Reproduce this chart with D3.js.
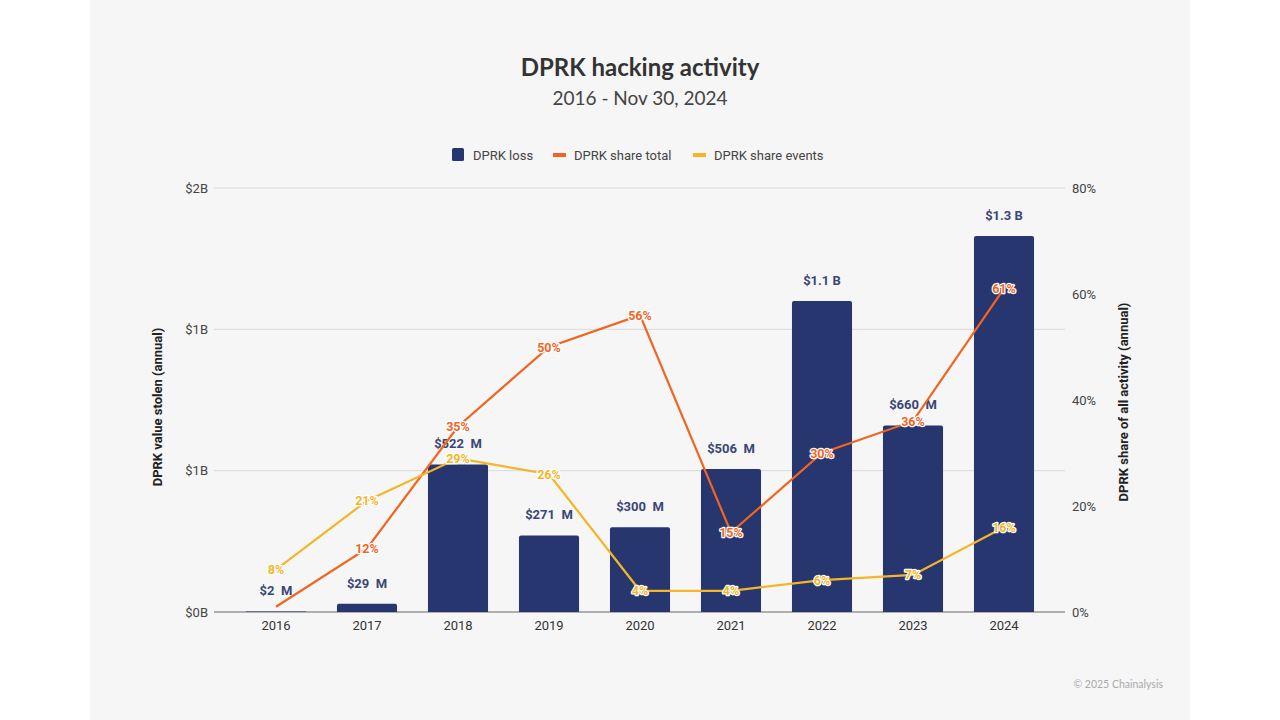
<!DOCTYPE html>
<html><head><meta charset="utf-8">
<script src="https://cdn.jsdelivr.net/npm/d3@7"></script>
<style>
html,body{margin:0;padding:0;background:#fff;}
svg{display:block;font-family:Roboto,"Open Sans",sans-serif;}
</style></head><body>
<svg id="c" width="1280" height="720"></svg>
<script>
const years = ["2016","2017","2018","2019","2020","2021","2022","2023","2024"];
const lossValues = [2e6, 29e6, 522e6, 271e6, 300e6, 506e6, 1.1e9, 660e6, 1.33e9];
const lossLabels = ["$2\u00a0\u00a0M","$29\u00a0\u00a0M","$522\u00a0\u00a0M","$271\u00a0\u00a0M","$300\u00a0\u00a0M","$506\u00a0\u00a0M","$1.1 B","$660\u00a0\u00a0M","$1.3 B"];
const shareTotal = [1, 12, 35, 50, 56, 15, 30, 36, 61];
const shareTotalLabels = [null,"12%","35%","50%","56%","15%","30%","36%","61%"];
const shareEvents = [8, 21, 29, 26, 4, 4, 6, 7, 16];
const shareEventsLabels = ["8%","21%","29%","26%","4%","4%","6%","7%","16%"];
const leftTicks = [0, 0.5e9, 1e9, 1.5e9];
const leftTickLabels = ["$0B","$1B","$1B","$2B"];
const rightTicks = [0, 20, 40, 60, 80];
const legendItems = ["DPRK loss","DPRK share total","DPRK share events"];

const C_BAR = "#27366f", C_TOT = "#f2641f", C_EVT = "#f6b526";
const svg = d3.select("#c");
svg.append("rect").attr("x",0).attr("y",0).attr("width",1280).attr("height",720).attr("fill","#fff");
svg.append("rect").attr("x",90).attr("y",0).attr("width",1100).attr("height",720).attr("fill","#f6f6f6");

const L = 214, R = 1065, T = 188, B = 612;
const x = d3.scaleBand().domain(years).range([230.5, 1049.5]).paddingInner(0.34).paddingOuter(0.17);
const yL = d3.scaleLinear().domain([0, 1.5e9]).range([B, T]);
const yR = d3.scaleLinear().domain([0, 80]).range([B, T]);

// title
svg.append("text").attr("x",640).attr("y",76).attr("text-anchor","middle")
  .attr("font-size",24).attr("font-weight",700).attr("fill","#333").attr("font-family","Lato, 'Open Sans', sans-serif").text("DPRK hacking activity");
svg.append("text").attr("x",640).attr("y",105).attr("text-anchor","middle")
  .attr("font-size",19).attr("fill","#444").attr("font-family","Lato, 'Open Sans', sans-serif").text("2016 - Nov 30, 2024");

// gridlines
const gridG = svg.append("g");
leftTicks.forEach((t,i)=>{
  gridG.append("line").attr("x1",L).attr("x2",R).attr("y1",yL(t)).attr("y2",yL(t))
    .attr("stroke", i===0 ? "#666" : "#d9d9d9").attr("stroke-width", i===0?1.2:1);
});
// left axis
const axL = d3.axisLeft(yL).tickValues(leftTicks).tickSize(0).tickPadding(6).tickFormat((d,i)=>leftTickLabels[i]);
const gL = svg.append("g").attr("transform",`translate(${L},0)`).call(axL);
gL.select(".domain").remove();
gL.selectAll("text").attr("font-size",13).attr("fill","#444").attr("font-family","Roboto, sans-serif");
// right axis
const axR = d3.axisRight(yR).tickValues(rightTicks).tickSize(0).tickPadding(7).tickFormat(d=>d+"%");
const gR = svg.append("g").attr("transform",`translate(${R},0)`).call(axR);
gR.select(".domain").remove();
gR.selectAll("text").attr("font-size",13).attr("fill","#444").attr("font-family","Roboto, sans-serif");
// bottom axis
const axB = d3.axisBottom(x).tickSize(0).tickPadding(9);
const gB = svg.append("g").attr("transform",`translate(0,${B})`).call(axB);
gB.select(".domain").remove();
gB.selectAll("text").attr("font-size",13).attr("fill","#333").attr("font-family","Roboto, sans-serif");

// axis titles
svg.append("text").attr("transform","translate(162,407) rotate(-90)").attr("text-anchor","middle")
  .attr("font-size",13).attr("font-weight",700).attr("fill","#222").text("DPRK value stolen (annual)");
svg.append("text").attr("transform","translate(1128,402) rotate(-90)").attr("text-anchor","middle")
  .attr("font-size",13).attr("font-weight",700).attr("fill","#222").text("DPRK share of all activity (annual)");

// bars
svg.append("g").selectAll("path").data(years).join("path")
  .attr("fill",C_BAR)
  .attr("d",(d,i)=>{
    const x0=x(d), w=x.bandwidth(), y0=yL(lossValues[i]), h=B-y0, r=Math.min(2,h);
    return `M${x0},${B}V${y0+r}Q${x0},${y0} ${x0+r},${y0}H${x0+w-r}Q${x0+w},${y0} ${x0+w},${y0+r}V${B}Z`;
  });
// bar labels
svg.append("g").selectAll("text").data(years).join("text")
  .attr("x",d=>x(d)+x.bandwidth()/2).attr("y",(d,i)=>yL(lossValues[i])-16)
  .attr("text-anchor","middle").attr("font-size",13).attr("font-weight",700).attr("fill","#3a4677")
  .style("white-space","pre").text((d,i)=>lossLabels[i]);

// lines
const cx = d=>x(d)+x.bandwidth()/2;
const lineT = d3.line().x((d,i)=>cx(years[i])).y(d=>yR(d));
svg.append("path").datum(shareTotal).attr("d",lineT).attr("fill","none").attr("stroke",C_TOT).attr("stroke-width",2.2);
svg.append("path").datum(shareEvents).attr("d",lineT).attr("fill","none").attr("stroke",C_EVT).attr("stroke-width",2.2);

function pctLabels(vals, labels, color){
  svg.append("g").selectAll("text").data(vals).join("text")
    .attr("x",(d,i)=>cx(years[i])).attr("y",d=>yR(d)+4.5)
    .attr("text-anchor","middle").attr("font-size",12.5).attr("font-weight",700)
    .attr("fill",color).attr("stroke","#fff").attr("stroke-width",2.5).attr("paint-order","stroke")
    .attr("stroke-linejoin","round")
    .text((d,i)=>labels[i]||"");
}
pctLabels(shareEvents, shareEventsLabels, C_EVT);
pctLabels(shareTotal, shareTotalLabels, C_TOT);

// legend
const lg = svg.append("g").attr("font-size",13).attr("fill","#444");
const lgX = [452, 553, 693];
const lgColors = [C_BAR, C_TOT, C_EVT];
legendItems.forEach((name,i)=>{
  if(i===0) lg.append("rect").attr("x",lgX[i]).attr("y",148).attr("width",12).attr("height",13).attr("rx",1.5).attr("fill",lgColors[i]);
  else lg.append("rect").attr("x",lgX[i]).attr("y",153).attr("width",13).attr("height",4).attr("fill",lgColors[i]);
  lg.append("text").attr("x",lgX[i]+21).attr("y",159.5).attr("fill","#444").text(name);
});

// footer
svg.append("text").attr("x",1163).attr("y",688).attr("text-anchor","end").attr("font-size",10.5)
  .attr("fill","#aaa").attr("font-family","Lato, sans-serif").text("\u00a9 2025 Chainalysis");
</script>
</body></html>
